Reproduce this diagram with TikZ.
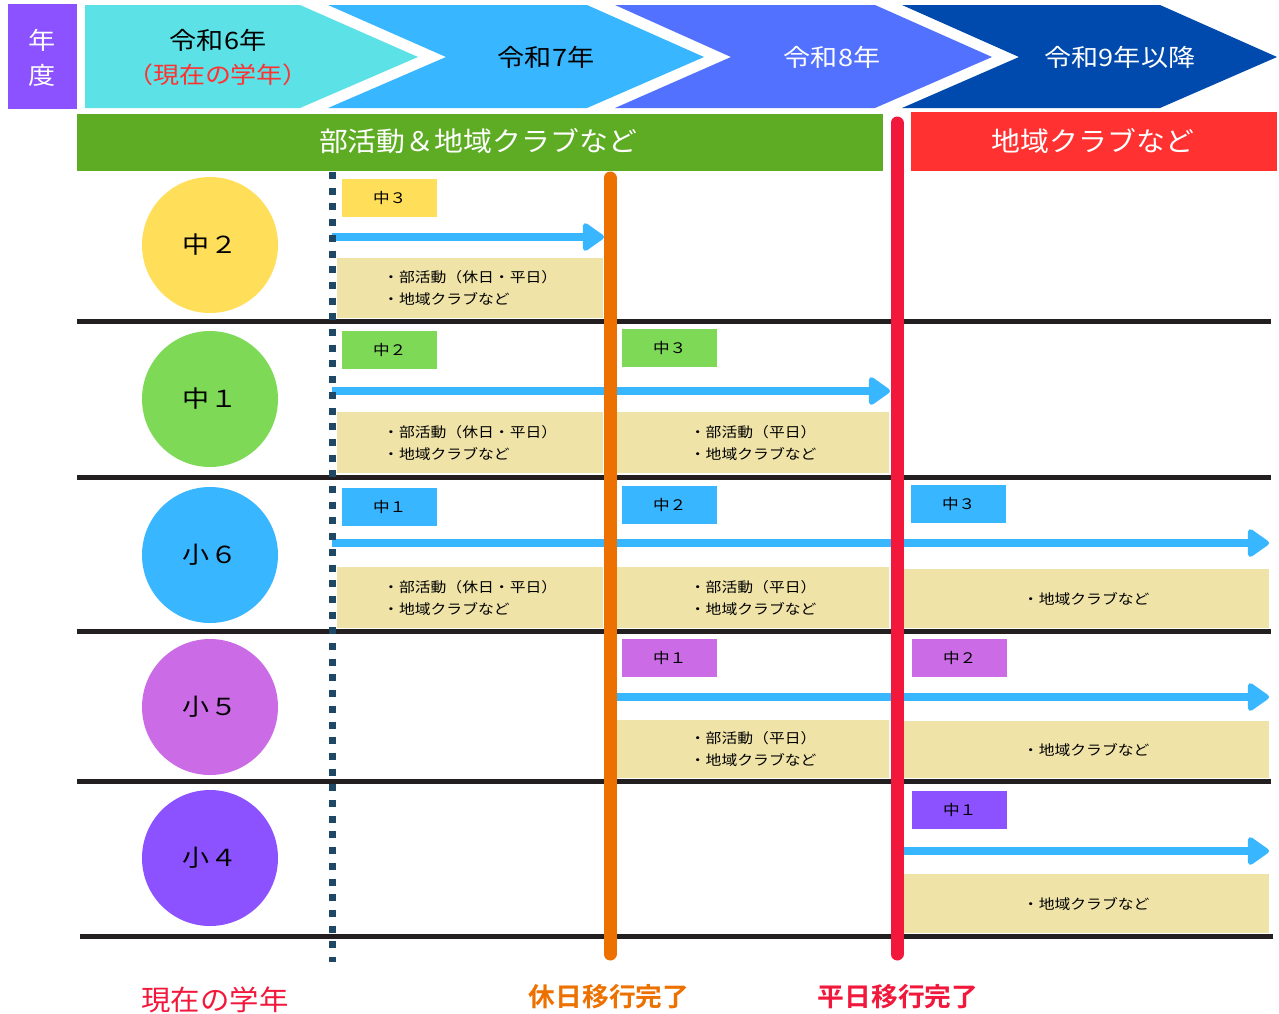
\documentclass[tikz,border=0pt]{standalone}
\usepackage{fontspec}
\newfontfamily\jp{Noto Sans CJK JP}[FakeStretch=1.05]
\newfontfamily\jpA{Noto Sans CJK JP}[FakeStretch=1.13]
\newfontfamily\jpB{Noto Sans CJK JP}[FakeStretch=1.07]
\newfontfamily\jpC{Noto Sans CJK JP}[FakeStretch=1.15]
\newfontfamily\jpb{Noto Sans CJK JP Bold}[FakeStretch=1.03]
\usetikzlibrary{arrows.meta}
\definecolor{cCyan}{HTML}{5CE1E6}
\definecolor{cSky}{HTML}{38B6FF}
\definecolor{cPeri}{HTML}{5271FF}
\definecolor{cNavy}{HTML}{004AAD}
\definecolor{cViolet}{HTML}{8C52FF}
\definecolor{cGreenBar}{HTML}{5EAC24}
\definecolor{cRedBar}{HTML}{FF3131}
\definecolor{cOrange}{HTML}{ED7100}
\definecolor{cCrimson}{HTML}{F2183C}
\definecolor{cBeige}{HTML}{EFE3A8}
\definecolor{cDot}{HTML}{1E4865}
\definecolor{cBlack}{HTML}{231F20}
\definecolor{cYellow}{HTML}{FFDE59}
\definecolor{cLime}{HTML}{7ED957}
\definecolor{cPurple}{HTML}{CB6CE6}
\begin{document}
\begin{tikzpicture}[x=1pt,y=-1pt,
  grade/.style={circle,minimum size=136pt,inner sep=0pt,font=\jpC\fontsize{23.5}{23.5}\selectfont},
  tag/.style={rectangle,minimum width=95pt,minimum height=38pt,inner sep=0pt,anchor=north west,font=\jpC\fontsize{14.5}{14.5}\selectfont},
  note/.style={rectangle,fill=cBeige,inner sep=0pt,anchor=north west,align=left,font=\jpA\fontsize{14}{22}\selectfont},
  flow/.style={draw=cSky,line width=8pt,-{Triangle[length=23pt,width=31pt,round,line width=5pt]}},
  hline/.style={draw=cBlack,line width=5pt},
  vline/.style={line width=13pt,line cap=round},
  head/.style={font=\jpA\fontsize{24}{24}\selectfont},
  bar/.style={font=\jpB\fontsize{27}{27}\selectfont,text=white}]
\useasboundingbox (0,0) rectangle (1279,1013);
% header
\fill[cViolet] (8,4) rectangle (77,109);
\node[head,text=white] (nen) at (42,40) {年};
\node[head,text=white] (do) at (42,75) {度};
\fill[cCyan] (85,5) -- (300,5) -- (418,57) -- (300,108) -- (85,108) -- cycle;
\fill[cSky] (328,5) -- (587,5) -- (704,57) -- (587,108) -- (328,108) -- (446,57) -- cycle;
\fill[cPeri] (615,5) -- (875,5) -- (992,57) -- (875,108) -- (615,108) -- (731,57) -- cycle;
\fill[cNavy] (902,5) -- (1160,5) -- (1277,57) -- (1160,108) -- (902,108) -- (1019,57) -- cycle;
\node[head] (r6) at (218,40) {令和6年};
\node[head,text=cRedBar,font=\jpA\fontsize{23}{23}\selectfont] (r6b) at (218,75) {（現在の学年）};
\node[head] (r7) at (546,57) {令和7年};
\node[head,text=white] (r8) at (832,57) {令和8年};
\node[head,text=white] (r9) at (1120,57) {令和9年以降};
% bars
\fill[cGreenBar] (77,114) rectangle (883,171);
\node[bar] (gbar) at (478,141) {部活動＆地域クラブなど};
\fill[cRedBar] (911,112) rectangle (1277,171);
\node[bar] (rbar) at (1093,141) {地域クラブなど};
% beige notes
\node[note,minimum width=266pt,minimum height=60pt] (n11) at (337,258) {・部活動（休日・平日）\\・地域クラブなど};
\node[note,minimum width=266pt,minimum height=61pt] (n21) at (337,412) {・部活動（休日・平日）\\・地域クラブなど};
\node[note,minimum width=272pt,minimum height=61pt] (n22) at (617,412) {・部活動（平日）\\・地域クラブなど};
\node[note,minimum width=266pt,minimum height=61pt] (n31) at (337,567) {・部活動（休日・平日）\\・地域クラブなど};
\node[note,minimum width=272pt,minimum height=61pt] (n32) at (617,567) {・部活動（平日）\\・地域クラブなど};
\node[note,minimum width=366pt,minimum height=59pt] (n33) at (903,569) {・地域クラブなど};
\node[note,minimum width=272pt,minimum height=58pt] (n42) at (617,720) {・部活動（平日）\\・地域クラブなど};
\node[note,minimum width=366pt,minimum height=57pt] (n43) at (903,721) {・地域クラブなど};
\node[note,minimum width=366pt,minimum height=59pt] (n53) at (903,874) {・地域クラブなど};
% tags
\node[tag,fill=cYellow] (t11) at (342,179) {中３};
\node[tag,fill=cLime] (t21) at (342,331) {中２};
\node[tag,fill=cLime] (t22) at (622,329) {中３};
\node[tag,fill=cSky] (t31) at (342,488) {中１};
\node[tag,fill=cSky] (t32) at (622,486) {中２};
\node[tag,fill=cSky] (t33) at (911,485) {中３};
\node[tag,fill=cPurple] (t42) at (622,639) {中１};
\node[tag,fill=cPurple] (t43) at (912,639) {中２};
\node[tag,fill=cViolet] (t53) at (912,791) {中１};
% circles
\node[grade,fill=cYellow] (g1) at (210,245) {中２};
\node[grade,fill=cLime] (g2) at (210,399) {中１};
\node[grade,fill=cSky] (g3) at (210,555) {小６};
\node[grade,fill=cPurple] (g4) at (210,707) {小５};
\node[grade,fill=cViolet] (g5) at (210,858) {小４};
% horizontal lines
\coordinate (h1a) at (77,321); \coordinate (h1b) at (1271,321);
\coordinate (h2a) at (77,477); \coordinate (h2b) at (1271,477);
\coordinate (h3a) at (77,631); \coordinate (h3b) at (1271,631);
\coordinate (h4a) at (77,781); \coordinate (h4b) at (1271,781);
\coordinate (h5a) at (80,936); \coordinate (h5b) at (1273,936);
\foreach \i in {1,...,5} {\draw[hline] (h\i a) -- (h\i b);}
% arrows
\coordinate (a1s) at (332,237); \coordinate (a1e) at (604,237);
\coordinate (a2s) at (332,391); \coordinate (a2e) at (890,391);
\coordinate (a3s) at (332,543); \coordinate (a3e) at (1269,543);
\coordinate (a4s) at (617,697); \coordinate (a4e) at (1269,697);
\coordinate (a5s) at (903,851); \coordinate (a5e) at (1269,851);
\foreach \i in {1,...,5} {\draw[flow] (a\i s) -- (a\i e);}
% vertical lines
\coordinate (d1) at (332,172); \coordinate (d2) at (332,962);
\draw[cDot,line width=7pt,dash pattern=on 7pt off 8.7pt] (d1) -- (d2);
\coordinate (o1) at (610,178); \coordinate (o2) at (610,954);
\draw[vline,cOrange] (o1) -- (o2);
\coordinate (c1) at (897,123); \coordinate (c2) at (897,954);
\draw[vline,cCrimson] (c1) -- (c2);
% bottom labels
\node[font=\jp\fontsize{28}{28}\selectfont,text=cCrimson] (now) at (215,1000) {現在の学年};
\node[font=\jpb\fontsize{26}{26}\selectfont,text=cOrange] (kyu) at (609,997) {休日移行完了};
\node[font=\jpb\fontsize{26}{26}\selectfont,text=cCrimson] (hei) at (898,997) {平日移行完了};
\end{tikzpicture}
\end{document}
